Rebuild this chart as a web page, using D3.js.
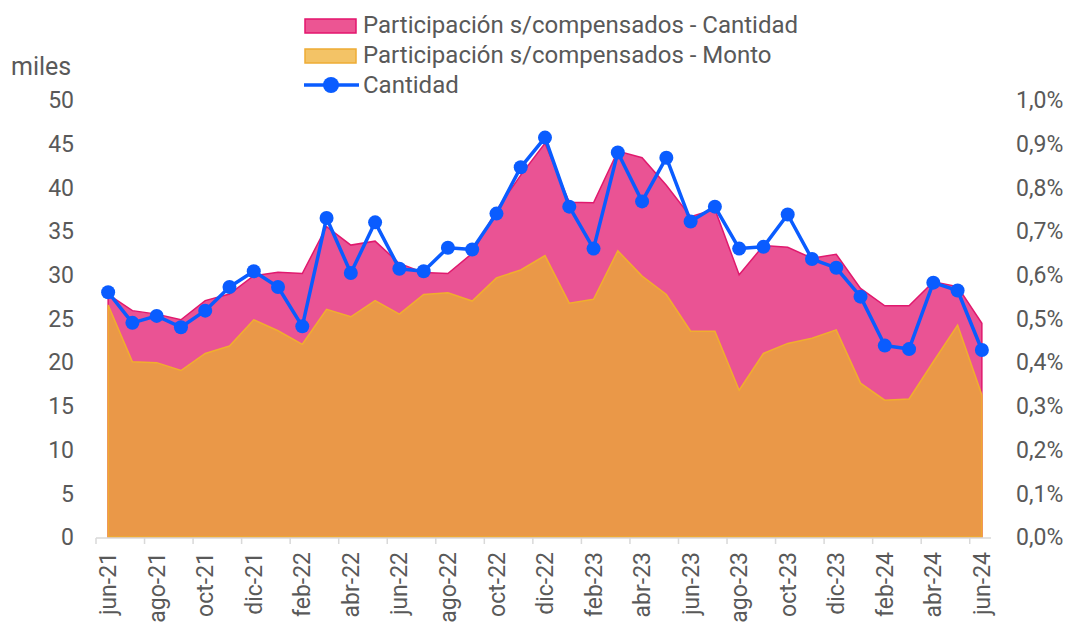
<!DOCTYPE html>
<html>
<head>
<meta charset="utf-8">
<script src="https://cdn.jsdelivr.net/npm/d3@7"></script>
<style>
  body { margin: 0; background: #fff; }
  text { font-family: Roboto, "Noto Sans", sans-serif; fill: #595959; }
</style>
</head>
<body>
<div id="chart"></div>
<script>
var months = ["jun-21","jul-21","ago-21","sep-21","oct-21","nov-21","dic-21","ene-22","feb-22","mar-22","abr-22","may-22",
  "jun-22","jul-22","ago-22","sep-22","oct-22","nov-22","dic-22","ene-23","feb-23","mar-23","abr-23","may-23",
  "jun-23","jul-23","ago-23","sep-23","oct-23","nov-23","dic-23","ene-24","feb-24","mar-24","abr-24","may-24","jun-24"];

// miles de operaciones
var cantidad = [28.0,24.5,25.3,24.0,25.9,28.6,30.4,28.6,24.1,36.5,30.2,36.0,
  30.7,30.4,33.1,32.9,37.0,42.3,45.7,37.8,33.0,44.0,38.4,43.4,
  36.1,37.8,33.0,33.2,36.9,31.8,30.8,27.5,21.9,21.5,29.1,28.2,21.4];

// % sobre compensados
var partCantidad = [0.555,0.518,0.510,0.497,0.541,0.556,0.598,0.606,0.603,0.710,0.668,0.677,
  0.626,0.605,0.603,0.649,0.748,0.828,0.901,0.766,0.765,0.883,0.868,0.805,
  0.733,0.750,0.600,0.667,0.663,0.638,0.647,0.569,0.529,0.529,0.584,0.573,0.489];

var partMonto = [0.531,0.401,0.399,0.381,0.420,0.437,0.497,0.472,0.441,0.521,0.504,0.541,
  0.510,0.555,0.559,0.540,0.593,0.611,0.644,0.535,0.544,0.655,0.597,0.555,
  0.471,0.471,0.336,0.420,0.443,0.455,0.474,0.352,0.313,0.316,0.401,0.485,0.325];

var leftTicks = [0,5,10,15,20,25,30,35,40,45,50];
var rightTicks = [0,0.1,0.2,0.3,0.4,0.5,0.6,0.7,0.8,0.9,1.0];

var W = 1068, H = 623;
var margin = {top: 100, right: 74, bottom: 86, left: 96};

var svg = d3.select("#chart").append("svg")
  .attr("width", W).attr("height", H);

var x = d3.scaleBand().domain(months).range([margin.left, W - margin.right]);
var bw = x.bandwidth();
var cx = function(m) { return x(m) + bw / 2; };

var yL = d3.scaleLinear().domain([0, 50]).range([H - margin.bottom, margin.top]);
var yR = d3.scaleLinear().domain([0, 1]).range([H - margin.bottom, margin.top]);

// areas (superpuestas, no apiladas)
var area = d3.area()
  .x(function(d, i) { return cx(months[i]); })
  .y0(yR(0))
  .y1(function(d) { return yR(d); });

svg.append("path").datum(partCantidad)
  .attr("d", area)
  .attr("fill", "#EA5394")
  .attr("stroke", "#E0196E")
  .attr("stroke-width", 1.5);

svg.append("path").datum(partMonto)
  .attr("d", area)
  .attr("fill", "#EA9848")
  .attr("stroke", "#F0AE2E")
  .attr("stroke-width", 1.5);

// x axis
var xAxis = svg.append("g")
  .attr("transform", "translate(0," + (H - margin.bottom + 1) + ")")
  .call(d3.axisBottom(x)
    .tickValues(months.filter(function(d, i) { return i % 2 === 0; }))
    .tickSize(6).tickSizeOuter(0));
xAxis.select(".domain").attr("stroke", "#D9D9D9").attr("stroke-width", 1.5)
  .attr("d", "M" + margin.left + ",0H" + (W - margin.right - 3));
xAxis.selectAll(".tick line").attr("stroke", "#D9D9D9").attr("stroke-width", 1.5)
  .attr("transform", "translate(" + (-bw / 2) + ",0)");
xAxis.selectAll(".tick text")
  .style("font-size", "23px")
  .style("fill", "#595959")
  .attr("text-anchor", "end")
  .attr("transform", "rotate(-90)")
  .attr("x", -14).attr("y", 0).attr("dy", "0.35em");

// left axis
svg.append("g").selectAll("text")
  .data(leftTicks).enter().append("text")
  .attr("x", 74).attr("y", function(d) { return yL(d); })
  .attr("dy", "0.36em")
  .attr("text-anchor", "end")
  .style("font-size", "23px")
  .text(function(d) { return d; });

svg.append("text").attr("x", 11).attr("y", 66).attr("dy", "0.36em")
  .style("font-size", "25px").text("miles");

// right axis
svg.append("g").selectAll("text")
  .data(rightTicks).enter().append("text")
  .attr("x", 1016).attr("y", function(d) { return yR(d); })
  .attr("dy", "0.36em")
  .style("font-size", "23px")
  .text(function(d) { return d3.format(".1f")(d).replace(".", ",") + "%"; });

// line
var line = d3.line()
  .x(function(d, i) { return cx(months[i]); })
  .y(function(d) { return yL(d); });

svg.append("path").datum(cantidad)
  .attr("d", line)
  .attr("fill", "none")
  .attr("stroke", "#0A5CFF")
  .attr("stroke-width", 3.5)
  .attr("stroke-linejoin", "round");

svg.selectAll(".dot").data(cantidad).enter().append("circle")
  .attr("class", "dot")
  .attr("cx", function(d, i) { return cx(months[i]); })
  .attr("cy", function(d) { return yL(d); })
  .attr("r", 7)
  .attr("fill", "#0A5CFF");

// legend
var legend = svg.append("g");
legend.append("rect").attr("x", 305).attr("y", 19).attr("width", 51).attr("height", 14)
  .attr("fill", "#EC5593").attr("stroke", "#E3156D").attr("stroke-width", 1.5);
legend.append("rect").attr("x", 305).attr("y", 49).attr("width", 51).attr("height", 14)
  .attr("fill", "#F3C366").attr("stroke", "#EEAC35").attr("stroke-width", 1.5);
legend.append("line").attr("x1", 304).attr("x2", 359).attr("y1", 85).attr("y2", 85)
  .attr("stroke", "#0A5CFF").attr("stroke-width", 3.5);
legend.append("circle").attr("cx", 331).attr("cy", 85).attr("r", 8).attr("fill", "#0A5CFF");

var legendLabels = ["Participación s/compensados - Cantidad", "Participación s/compensados - Monto", "Cantidad"];
legend.selectAll(".lt").data(legendLabels).enter().append("text")
  .attr("x", 363).attr("y", function(d, i) { return 24 + i * 30; })
  .attr("dy", "0.36em")
  .style("font-size", "24px")
  .text(function(d) { return d; });
</script>
</body>
</html>
